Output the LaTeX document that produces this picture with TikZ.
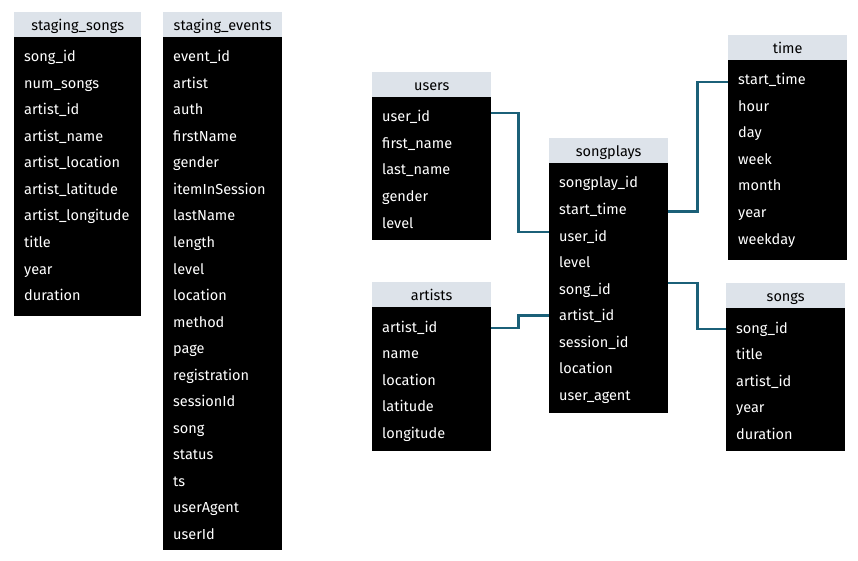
\documentclass[tikz,border=0pt]{standalone}
\usepackage{fontspec}
\setmainfont{Fira Sans}
\usetikzlibrary{calc}
\definecolor{headgray}{HTML}{DDE3EA}
\definecolor{linkteal}{HTML}{1B6078}

\begin{document}
\begin{tikzpicture}[x=1pt,y=-1pt,
    thead/.style={fill=headgray, anchor=south west, inner sep=0pt, minimum height=24.5pt,
      text height=14pt, text depth=3pt, font=\fontsize{14.5}{17}\selectfont},
    tbody/.style={fill=black, anchor=north west, inner sep=0pt},
    field/.style={text=white, anchor=west, inner sep=0pt, text height=14pt, text depth=4pt,
      font=\fontsize{14.5}{17}\selectfont},
    link/.style={draw=linkteal, line width=2.2pt}]
  \useasboundingbox (0,0) rectangle (858,561);

  % staging tables
  \node[thead, minimum width=127pt] (ss) at (14,37) {staging\_songs};
  \node[tbody, minimum width=127pt, minimum height=279pt] (ss-body) at (14,37) {};
  \foreach \f [count=\i] in {song\_id, num\_songs, artist\_id, artist\_name, artist\_location,
      artist\_latitude, artist\_longitude, title, year, duration}
    \node[field] (ss-\i) at (24,{57+26.5*(\i-1)}) {\f};

  \node[thead, minimum width=119pt] (se) at (163,37) {staging\_events};
  \node[tbody, minimum width=119pt, minimum height=513pt] (se-body) at (163,37) {};
  \foreach \f [count=\i] in {event\_id, artist, auth, firstName, gender, itemInSession, lastName,
      length, level, location, method, page, registration, sessionId, song, status, ts,
      userAgent, userId}
    \node[field] (se-\i) at (173,{57+26.5*(\i-1)}) {\f};

  % star schema
  \node[thead, minimum width=119pt] (users) at (372,97) {users};
  \node[tbody, minimum width=119pt, minimum height=143pt] (users-body) at (372,97) {};
  \foreach \f [count=\i] in {user\_id, first\_name, last\_name, gender, level}
    \node[field] (users-\i) at (382,{117+26.5*(\i-1)}) {\f};

  \node[thead, minimum width=119pt] (artists) at (372,307) {artists};
  \node[tbody, minimum width=119pt, minimum height=144pt] (artists-body) at (372,307) {};
  \foreach \f [count=\i] in {artist\_id, name, location, latitude, longitude}
    \node[field] (artists-\i) at (382,{327+26.5*(\i-1)}) {\f};

  \node[thead, minimum width=119pt] (sp) at (549,163) {songplays};
  \node[tbody, minimum width=119pt, minimum height=250pt] (sp-body) at (549,163) {};
  \foreach \f [count=\i] in {songplay\_id, start\_time, user\_id, level, song\_id, artist\_id,
      session\_id, location, user\_agent}
    \node[field] (sp-\i) at (559,{183+26.5*(\i-1)}) {\f};

  \node[thead, minimum width=119pt] (time) at (728,60) {time};
  \node[tbody, minimum width=119pt, minimum height=200pt] (time-body) at (728,60) {};
  \foreach \f [count=\i] in {start\_time, hour, day, week, month, year, weekday}
    \node[field] (time-\i) at (738,{80+26.5*(\i-1)}) {\f};

  \node[thead, minimum width=119pt] (songs) at (726,308) {songs};
  \node[tbody, minimum width=119pt, minimum height=143pt] (songs-body) at (726,308) {};
  \foreach \f [count=\i] in {song\_id, title, artist\_id, year, duration}
    \node[field] (songs-\i) at (736,{328+26.5*(\i-1)}) {\f};

  % links
  \draw[link] ($(users-body.east |- users-1)+(0,-4)$) -- ++(27,0) |- ($(sp-body.west |- sp-3)+(0,-4)$);
  \draw[link] ($(artists-body.east |- artists-1)+(0,1)$) -- ++(27,0) |- (sp-body.west |- sp-6);
  \draw[link] ($(sp-body.east |- sp-2)+(0,2)$) -- ++(29,0) |- ($(time-body.west |- time-1)+(0,2)$);
  \draw[link] ($(sp-body.east |- sp-5)+(0,-6)$) -- ++(29,0) |- ($(songs-body.west |- songs-1)+(0,1)$);
\end{tikzpicture}
\end{document}
